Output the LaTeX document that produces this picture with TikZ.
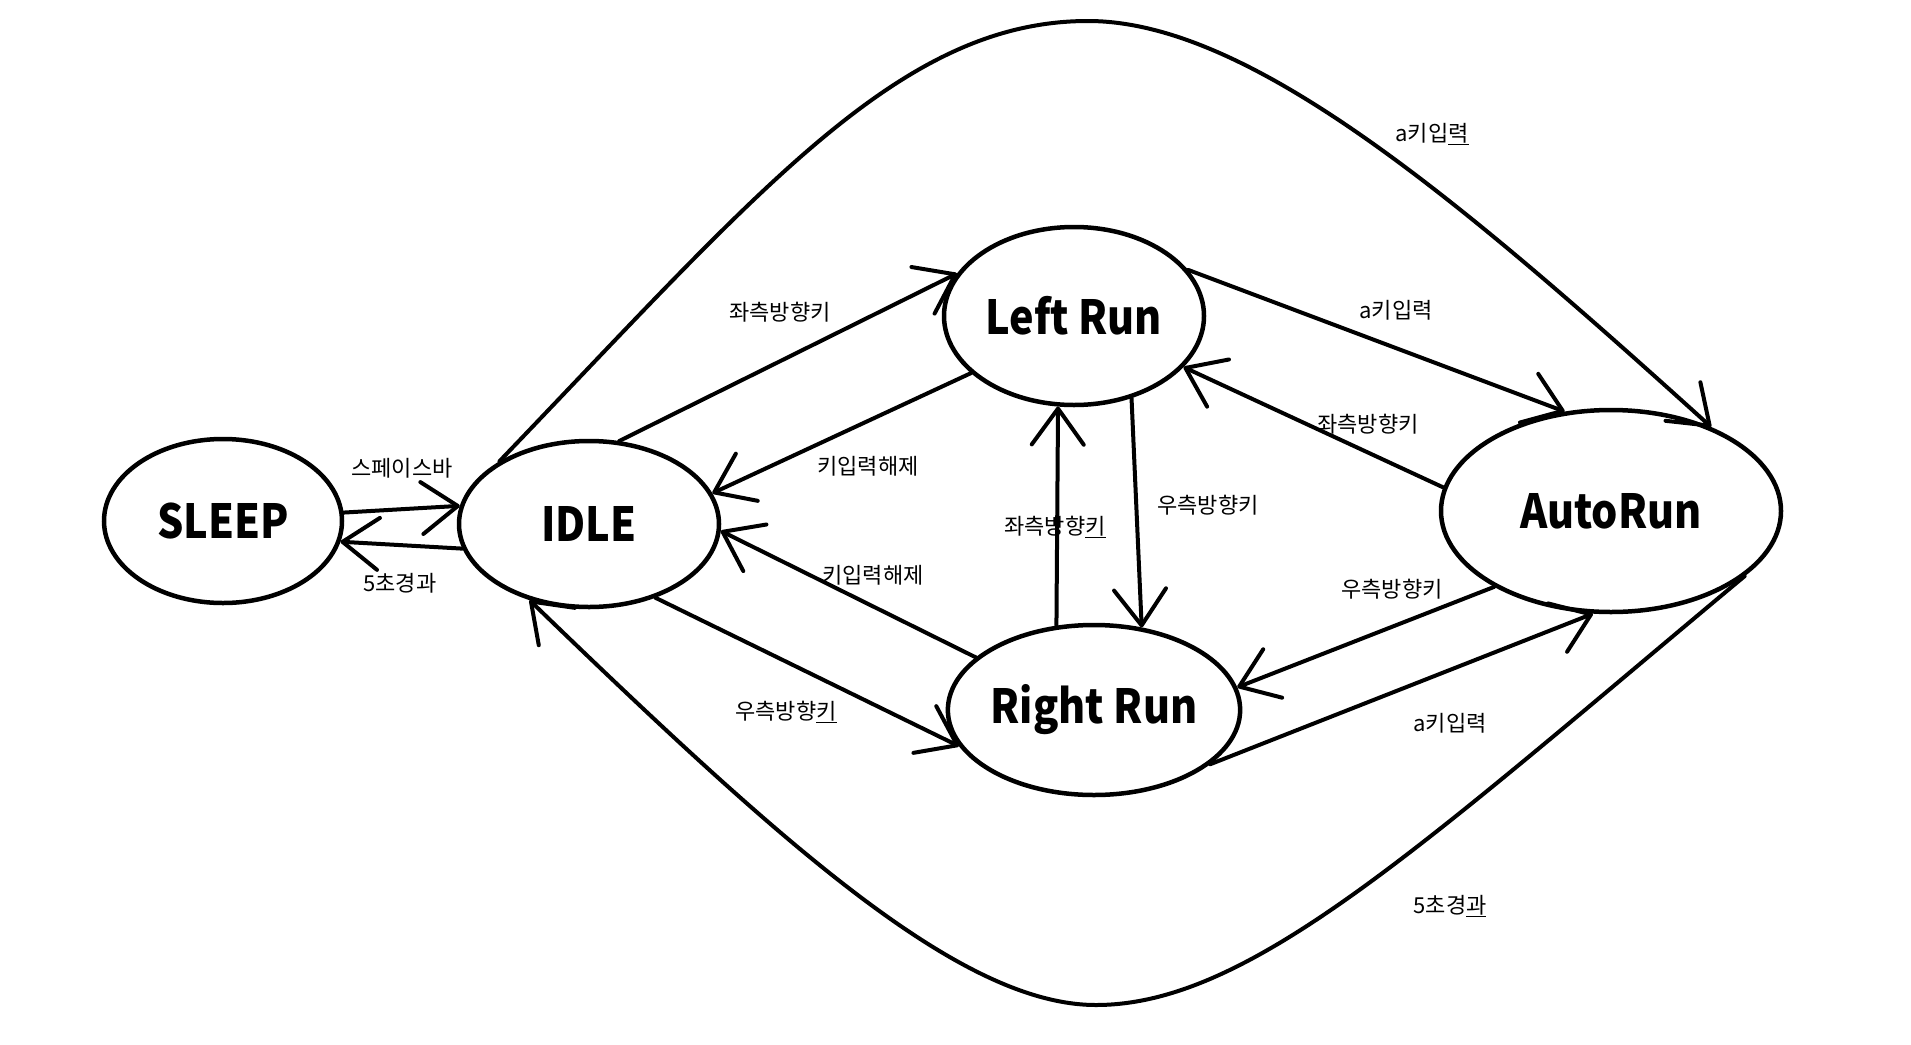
\documentclass[tikz,border=0pt]{standalone}
\usepackage{fontspec}
\setmainfont{Noto Sans CJK KR}
\newfontfamily\nodefont{Noto Sans CJK KR}[FakeStretch=0.88]
\usetikzlibrary{shapes.geometric,arrows.meta}
\newcommand\myul[1]{\underline{#1}}
\begin{document}
\begin{tikzpicture}[x=1pt,y=-1pt,
  state/.style={draw, ellipse, line width=4.5pt, inner sep=0pt,
    font=\nodefont\bfseries\fontsize{47}{47}\selectfont},
  tr/.style={line width=4pt, line cap=round,
    -{Straight Barb[length=36pt,width=52pt,round]}},
  lbl/.style={font=\fontsize{22}{22}\selectfont, inner sep=0pt}]
\useasboundingbox[fill=white] (0,0) rectangle (1911,1044);

\node[state, minimum width=238pt, minimum height=164pt] (SLEEP) at (223,521) {SLEEP};
\node[state, minimum width=260pt, minimum height=166pt] (IDLE) at (589,524) {\raisebox{-3pt}{IDLE}};
\node[state, minimum width=260pt, minimum height=178pt] (LR) at (1074,316) {\raisebox{-3pt}{Left Run}};
\node[state, minimum width=285pt, minimum height=170pt] (RR) at (1094,710) {\raisebox{-7pt}{Right Run}};
\node[state, minimum width=340pt, minimum height=202pt] (AR) at (1611,511) {\raisebox{-11pt}{AutoRun}};

\draw[tr] (SLEEP.4) -- (IDLE.172);
\draw[tr] (IDLE.191) -- (SLEEP.-10);
\draw[tr] (IDLE.70) -- (LR.160);
\draw[tr] (LR.209) -- (IDLE.14);
\draw[tr] (RR.156) -- (IDLE.-3);
\draw[tr] (IDLE.-48) -- (RR.195);
\draw[tr] (RR.114) -- (LR.260);
\draw[tr] (LR.-55) -- (RR.60);
\draw[tr] (LR.22) -- (AR.115);
\draw[tr] (AR.172) -- (LR.-25);
\draw[tr] (AR.-147) -- (RR.9.5);
\draw[tr] (RR.-25) -- (AR.260);

\coordinate (top) at (1088,21);
\coordinate (bot) at (1096,1005);
\draw[tr] (IDLE.145) .. controls (760,190) and (900,21) .. (top)
  .. controls (1250,21) and (1460,200) .. (AR.40);
\draw[tr] (AR.-26) .. controls (1420,847) and (1250,1005) .. (bot)
  .. controls (960,1005) and (781,843) .. (IDLE.232);

\node[lbl] (l1) at (402,468) {스페이스바};
\node[lbl] (l2) at (400,583) {5초경과};
\node[lbl] (l3) at (780,312) {좌측방향키};
\node[lbl] (l4) at (868,466) {키입력해제};
\node[lbl] (l5) at (873,575) {키입력해제};
\node[lbl] (l6) at (786,712) {우측방향\myul{키}};
\node[lbl] (l7) at (1055,527) {좌측방향\myul{키}};
\node[lbl] (l8) at (1208,505) {우측방향키};
\node[lbl] (l9) at (1396,310) {a키입력};
\node[lbl] (l10) at (1368,424) {좌측방향키};
\node[lbl] (l11) at (1392,589) {우측방향키};
\node[lbl] (l12) at (1450,723) {a키입력};
\node[lbl] (l13) at (1432,134) {a키입\myul{력}};
\node[lbl] (l14) at (1450,906) {5초경\myul{과}};
\end{tikzpicture}
\end{document}
